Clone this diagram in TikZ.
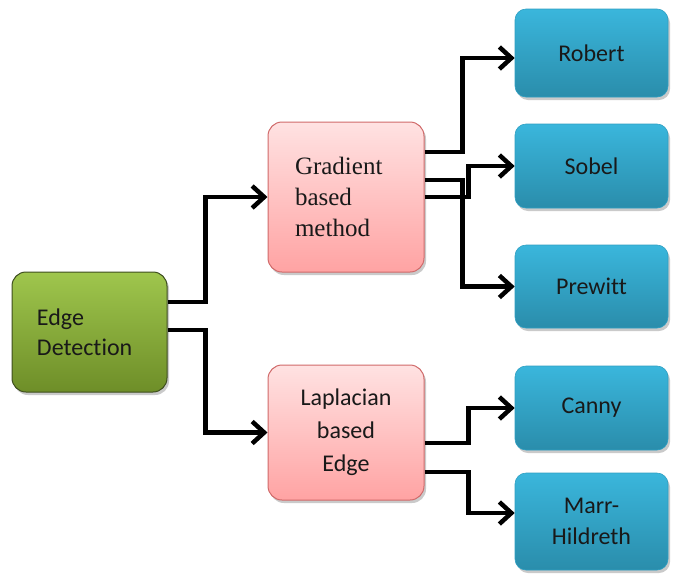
\documentclass[tikz,border=0pt]{standalone}
\usepackage{fontspec}
\setmainfont{Carlito}[Ligatures=NoCommon]
\newfontfamily\serifface{Liberation Serif}
\usetikzlibrary{arrows.meta,shadows,calc}
\definecolor{gtop}{HTML}{9FC64D}
\definecolor{gbot}{HTML}{6E8E28}
\definecolor{gborder}{HTML}{3E4E1E}
\definecolor{ptop}{HTML}{FFE2E2}
\definecolor{pbot}{HTML}{FFA3A3}
\definecolor{pborder}{HTML}{D06A6A}
\definecolor{btop}{HTML}{3AB6DC}
\definecolor{bbot}{HTML}{2A8DAB}
\definecolor{bborder}{HTML}{2F9FC2}
\begin{document}
\begin{tikzpicture}[x=1pt,y=-1pt,
  boxbase/.style={rectangle, rounded corners=14pt, line width=1pt,
    drop shadow={shadow xshift=2pt, shadow yshift=-3pt, opacity=0.35, fill=black!60},
    font=\fontsize{24}{30}\selectfont, text=black!90},
  greenbox/.style={boxbase, draw=gborder, top color=gtop, bottom color=gbot,
    minimum width=155pt, minimum height=120pt, align=left, text width=105pt, inner xsep=25pt},
  pinkbox/.style={boxbase, draw=pborder, top color=ptop, bottom color=pbot,
    minimum width=156pt, text width=102pt, inner xsep=27pt},
  bluebox/.style={boxbase, rounded corners=11pt, draw=bborder, line width=0.6pt,
    top color=btop, bottom color=bbot, minimum width=153pt, align=center},
  conn/.style={line width=4.5pt, -{Straight Barb[length=12pt,width=22pt,line width=4.5pt]}}
]
\useasboundingbox (0,0) rectangle (673,574);
\node[greenbox] (edge) at (89.5,332) {Edge\\Detection};
\node[pinkbox, minimum height=150pt, align=left, font=\serifface\fontsize{25}{31}\selectfont] (grad) at (346,197) {Gradient\\based\\method};
\node[pinkbox, minimum height=135pt, align=center, font=\fontsize{24}{33}\selectfont] (lap) at (346,432.5) {Laplacian\\based\\Edge};
\node[bluebox, minimum height=88pt] (rob) at (591.5,53) {Robert};
\node[bluebox, minimum height=84pt] (sob) at (591.5,166) {Sobel};
\node[bluebox, minimum height=83pt] (pre) at (591.5,286.5) {Prewitt};
\node[bluebox, minimum height=84pt] (can) at (591.5,408) {Canny};
\node[bluebox, minimum height=97pt, font=\fontsize{24}{31}\selectfont] (mar) at (591.5,521.5) {Marr-\\Hildreth};

\draw[conn] ([yshift=30pt]edge.east) -- ++(38,0) |- (grad.west);
\draw[conn] ([yshift=2pt]edge.east) -- ++(38,0) |- (lap.west);
\draw[conn] ([yshift=45pt]grad.east) -- ++(38,0) |- ([yshift=-5pt]rob.west);
\draw[conn] ([yshift=17pt]grad.east) -- ++(38,0) |- (pre.west);
\draw[conn] (grad.east) -- ++(44,0) |- (sob.west);
\draw[conn] ([yshift=-10.5pt]lap.east) -- ++(44,0) |- (can.west);
\draw[conn] ([yshift=-39.5pt]lap.east) -- ++(44,0) |- ([yshift=8.5pt]mar.west);
\end{tikzpicture}
\end{document}
